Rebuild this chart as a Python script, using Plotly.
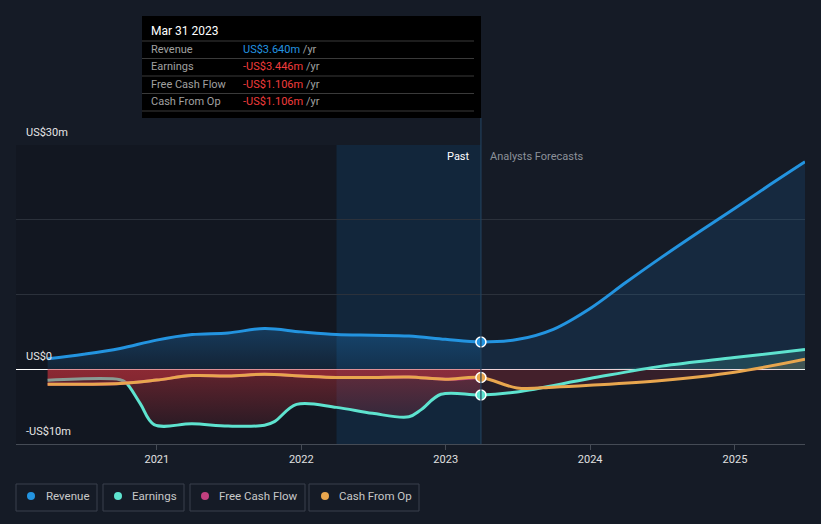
import plotly.graph_objects as go
import numpy as np

# ---------------- data (US$ m) ----------------
rev_past_dates = ["2020-03-31", "2020-06-30", "2020-09-30", "2020-12-31", "2021-03-31", "2021-06-30",
                  "2021-09-30", "2021-12-31", "2022-03-31", "2022-06-30", "2022-09-30", "2022-12-31",
                  "2023-03-31"]
rev_past = [1.4, 2.0, 2.77, 3.9, 4.64, 4.86, 5.45, 5.0, 4.64, 4.55, 4.45, 4.0, 3.64]
rev_fc_dates = ["2023-03-31", "2023-06-30", "2023-09-30", "2023-12-31", "2024-03-31", "2024-06-30",
                "2024-09-30", "2024-12-31", "2025-03-31", "2025-06-27"]
rev_fc = [3.64, 3.97, 5.35, 8.1, 11.6, 15.0, 18.3, 21.5, 24.7, 27.75]

earn_past_dates = ["2020-03-31", "2020-09-30", "2020-10-15", "2020-11-20", "2020-12-25", "2021-03-31",
                   "2021-06-30", "2021-09-30", "2021-10-25", "2021-12-20", "2022-03-31", "2022-06-30",
                   "2022-09-30", "2022-10-31", "2022-12-20", "2023-03-31"]
earn_past = [-1.47, -1.4, -1.8, -4.6, -7.4, -7.3, -7.6, -7.5, -7.0, -4.7, -5.1, -5.9, -6.35, -5.4, -3.35, -3.446]
earn_fc_dates = ["2023-03-31", "2023-06-30", "2023-12-31", "2024-06-30", "2024-12-31", "2025-06-27"]
earn_fc = [-3.446, -3.03, -1.25, 0.42, 1.57, 2.64]

cfo_past_dates = ["2020-03-31", "2020-09-30", "2020-12-31", "2021-03-31", "2021-06-30", "2021-09-30",
                  "2021-12-31", "2022-03-31", "2022-06-30", "2022-09-30", "2022-12-31", "2023-03-31"]
cfo_past = [-2.0, -1.9, -1.45, -0.85, -0.9, -0.67, -0.9, -1.1, -1.1, -1.03, -1.34, -1.106]
cfo_fc_dates = ["2023-03-31", "2023-06-30", "2023-09-30", "2023-12-31", "2024-06-30", "2024-12-31", "2025-06-27"]
cfo_fc = [-1.106, -2.5, -2.4, -2.15, -1.5, -0.4, 1.34]

fcf_past_dates = cfo_past_dates
fcf_past = [-2.0, -1.9, -1.45, -0.85, -0.9, -0.67, -0.9, -1.1, -1.1, -1.03, -1.34, -1.106]

y_ticks = [-10, 0, 10, 20, 30]
y_labels = ["-US$10m", "US$0", "", "", "US$30m"]
x_range = ["2020-01-11", "2025-06-27"]
now_date = "2023-03-31"
past_start = "2022-03-31"

tip_title = "Mar 31 2023"
tip_rows = [("Revenue", "US$3.640m", "#2394e0"),
            ("Earnings", "-US$3.446m", "#f03c3c"),
            ("Free Cash Flow", "-US$1.106m", "#f03c3c"),
            ("Cash From Op", "-US$1.106m", "#f03c3c")]
legend_items = [("Revenue", "#2394e0"), ("Earnings", "#5ee3cf"),
                ("Free Cash Flow", "#c2407f"), ("Cash From Op", "#e8a64e")]

# ---------------- styling ----------------
BG = "#151b26"
C_REV = "#2394e0"
C_EARN = "#5ee3cf"
C_FCF = "#c2407f"
C_CFO = "#e8a64e"
FONT = "Roboto"

W, H = 821, 524
ML, MR, MT, MB = 16, 16, 145, 80


def PX(x):
    return (x - ML) / (W - ML - MR)


def PY(y):
    return (H - MB - y) / (H - MT - MB)


fig = go.Figure()
SP = dict(shape="spline", smoothing=1.0)


def fill_trace(x, y, color=None, grad=None):
    kw = dict(x=x, y=y, mode="lines", line=dict(width=0, **SP), fill="tozeroy",
              hoverinfo="skip", showlegend=False)
    if grad is not None:
        kw["fillgradient"] = grad
        kw["fillcolor"] = "rgba(0,0,0,0)"
    else:
        kw["fillcolor"] = color
    fig.add_trace(go.Scatter(**kw))


red_grad_past = dict(type="vertical", start=-8, stop=0,
                     colorscale=[[0, "rgba(200,50,60,0.12)"], [1, "rgba(200,50,60,0.45)"]])
rev_grad_past = dict(type="vertical", start=0, stop=5.5,
                     colorscale=[[0, "rgba(33,150,243,0.10)"], [1, "rgba(33,150,243,0.28)"]])

# revenue fills
fill_trace(rev_past_dates, rev_past, grad=rev_grad_past)
fill_trace(rev_fc_dates, rev_fc, color="rgba(33,150,243,0.12)")

# earnings fills
fill_trace(earn_past_dates, earn_past, grad=red_grad_past)
earn_fc_arr = np.array(earn_fc)
fill_trace(earn_fc_dates, np.minimum(earn_fc_arr, 0), color="rgba(200,50,60,0.10)")
fill_trace(earn_fc_dates, np.maximum(earn_fc_arr, 0), color="rgba(94,227,207,0.16)")

# cash from op forecast fills
cfo_fc_arr = np.array(cfo_fc)
fill_trace(cfo_fc_dates, np.minimum(cfo_fc_arr, 0), color="rgba(200,50,60,0.18)")
fill_trace(cfo_fc_dates, np.maximum(cfo_fc_arr, 0), color="rgba(232,166,78,0.16)")


def line_trace(x, y, color):
    fig.add_trace(go.Scatter(x=x, y=y, mode="lines", line=dict(color=color, width=3, **SP),
                             hoverinfo="skip", showlegend=False))


# earnings line
line_trace(earn_past_dates + earn_fc_dates[1:], earn_past + earn_fc[1:], C_EARN)
# free cash flow fill (drawn over the earnings line) and line
fill_trace(fcf_past_dates, fcf_past, color="rgba(200,50,60,0.40)")
line_trace(fcf_past_dates, fcf_past, C_FCF)
# cash from op line
line_trace(cfo_past_dates + cfo_fc_dates[1:], cfo_past + cfo_fc[1:], C_CFO)
# revenue line
line_trace(rev_past_dates + rev_fc_dates[1:], rev_past + rev_fc[1:], C_REV)

# now markers
for xs, ys, c in [(rev_past_dates, rev_past, C_REV), (earn_past_dates, earn_past, C_EARN),
                  (cfo_past_dates, cfo_past, C_CFO)]:
    fig.add_trace(go.Scatter(x=[xs[-1]], y=[ys[-1]], mode="markers",
                             marker=dict(size=10, color=c, line=dict(color="#ffffff", width=1.5)),
                             hoverinfo="skip", showlegend=False))

shapes = []
annotations = []

# darker older-past background and highlighted last year
shapes.append(dict(type="rect", xref="x", yref="paper", x0=x_range[0], x1=past_start, y0=0, y1=1,
                   fillcolor="rgba(0,0,0,0.13)", line=dict(width=0), layer="below"))
shapes.append(dict(type="rect", xref="x", yref="paper", x0=past_start, x1=now_date, y0=0, y1=1,
                   fillcolor="rgba(10,70,115,0.28)", line=dict(width=0), layer="below"))
shapes.append(dict(type="line", xref="x", yref="paper", x0=now_date, x1=now_date, y0=0, y1=PY(118),
                   line=dict(color="#22405c", width=1.2)))

# y labels
for v, t in zip(y_ticks, y_labels):
    if t:
        annotations.append(dict(x=PX(24), xref="paper", y=v, yref="y", text=t, showarrow=False,
                                xanchor="left", yanchor="bottom", yshift=4,
                                font=dict(family=FONT, size=11, color="#e6e6e6")))

annotations.append(dict(x=PX(472), xref="paper", y=PY(156), yref="paper", text="Past", showarrow=False,
                        xanchor="right", yanchor="middle", font=dict(family=FONT, size=11, color="#ffffff")))
annotations.append(dict(x=PX(488), xref="paper", y=PY(156), yref="paper", text="Analysts Forecasts",
                        showarrow=False, xanchor="left", yanchor="middle",
                        font=dict(family=FONT, size=11, color="#8c9199")))

# tooltip
shapes.append(dict(type="rect", xref="paper", yref="paper", x0=PX(142), x1=PX(481), y0=PY(118), y1=PY(16),
                   fillcolor="#000000", line=dict(width=0)))
for sy in [41, 58.5, 76, 93.5, 111]:
    shapes.append(dict(type="line", xref="paper", yref="paper", x0=PX(142), x1=PX(474), y0=PY(sy), y1=PY(sy),
                       line=dict(color="#3a3a3a", width=1)))
annotations.append(dict(x=PX(149), xref="paper", y=PY(31), yref="paper", text=tip_title, showarrow=False,
                        xanchor="left", yanchor="middle", font=dict(family=FONT, size=12, color="#ffffff")))
for i, (lab, val, col) in enumerate(tip_rows):
    yy = 49.3 + i * 17.5
    annotations.append(dict(x=PX(149), xref="paper", y=PY(yy), yref="paper", text=lab, showarrow=False,
                            xanchor="left", yanchor="middle", font=dict(family=FONT, size=11, color="#a0a0a0")))
    annotations.append(dict(x=PX(241), xref="paper", y=PY(yy), yref="paper",
                            text=f"<span style='color:{col}'>{val}</span> /yr", showarrow=False,
                            xanchor="left", yanchor="middle", font=dict(family=FONT, size=11, color="#a0a0a0")))

# legend boxes
boxes = [(16, 97, 31, 44), (103, 184, 118, 130), (190, 305, 205, 217), (309, 419, 325, 337)]
for (lab, col), (bx0, bx1, dx, tx) in zip(legend_items, boxes):
    shapes.append(dict(type="rect", xref="paper", yref="paper", x0=PX(bx0), x1=PX(bx1),
                       y0=PY(511), y1=PY(484), line=dict(color="#3a414c", width=1), fillcolor=BG))
    shapes.append(dict(type="circle", xref="paper", yref="paper", x0=PX(dx - 4), x1=PX(dx + 4),
                       y0=PY(500), y1=PY(492), line=dict(width=0), fillcolor=col))
    annotations.append(dict(x=PX(tx), xref="paper", y=PY(496), yref="paper", text=lab, showarrow=False,
                            xanchor="left", yanchor="middle", font=dict(family=FONT, size=11.5, color="#c8c8c8")))

fig.update_layout(
    width=W, height=H, margin=dict(l=ML, r=MR, t=MT, b=MB),
    paper_bgcolor=BG, plot_bgcolor=BG, hovermode=False,
    font=dict(family=FONT, color="#d0d0d0"),
    shapes=shapes, annotations=annotations, showlegend=False,
    xaxis=dict(type="date", range=x_range, showgrid=False, zeroline=False, dtick="M12",
               tick0="2021-01-01", tickformat="%Y", ticks="outside", ticklen=5, tickcolor="#454b55",
               showline=True, linecolor="#454b55", linewidth=1,
               tickfont=dict(family=FONT, size=11, color="#e0e0e0")),
    yaxis=dict(range=[-10, 30], tickvals=y_ticks, showticklabels=False, showgrid=True,
               gridcolor="#2b313b", gridwidth=1, zeroline=True, zerolinecolor="#ffffff", zerolinewidth=1.2,
               fixedrange=True),
)

fig.write_html("out.html", config={"displayModeBar": False},
               post_script="document.body.style.margin='0';document.body.style.background='#151b26';")
